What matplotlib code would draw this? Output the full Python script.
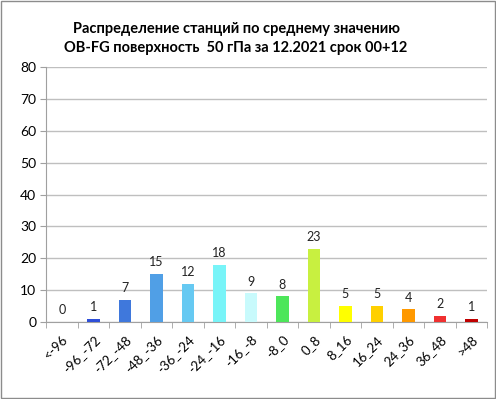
import matplotlib
matplotlib.use("Agg")
import matplotlib.pyplot as plt
import numpy as np

categories = ["<-96", "-96_-72", "-72_-48", "-48_-36", "-36_-24", "-24_-16", "-16_-8",
              "-8_0", "0_8", "8_16", "16_24", "24_36", "36_48", ">48"]
values = [0, 1, 7, 15, 12, 18, 9, 8, 23, 5, 5, 4, 2, 1]
colors = ["#2E4FD8", "#2E4FD8", "#3F78DC", "#509FE6", "#66C9F2", "#78F4F8", "#C8FAFC",
          "#4DE65A", "#C8F040", "#FFFF00", "#FFD000", "#FF9900", "#F03030", "#C00000"]
yticks = [0, 10, 20, 30, 40, 50, 60, 70, 80]
title = "Распределение станций по среднему значению\nOB-FG поверхность  50 гПа за 12.2021 срок 00+12"

plt.rcParams['font.family'] = ['Lato', 'DejaVu Sans']

fig = plt.figure(figsize=(4.96, 3.99), dpi=100)
ax = fig.add_axes([0.093, 0.193, 0.889, 0.639])

x = np.arange(len(categories))
ax.bar(x, values, width=0.4, color=colors, zorder=3)
for xi, v in zip(x, values):
    ax.text(xi, v + 1.8, str(v), ha='center', va='bottom', fontsize=9, color='#222222')

ax.set_xlim(-0.5, len(categories) - 0.5)
ax.set_ylim(0, 80)
ax.set_yticks(yticks)
ax.set_yticklabels([str(t) for t in yticks], fontsize=10)
ax.yaxis.grid(True, color='#BFBFBF', linewidth=1, zorder=0)
ax.set_axisbelow(True)

ax.set_xticks(x)
ax.set_xticklabels(categories, rotation=45, ha='right', rotation_mode='anchor', fontsize=9.5)
ax.tick_params(axis='x', length=0, pad=8)
ax.set_xticks(np.arange(-0.5, len(categories)), minor=True)
ax.tick_params(axis='x', which='minor', length=4, color='#A0A0A0')
ax.tick_params(axis='y', length=4, color='#A0A0A0', pad=3)

for s in ['top', 'right']:
    ax.spines[s].set_visible(False)
for s in ['left', 'bottom']:
    ax.spines[s].set_color('#A0A0A0')

fig.text(0.476, 0.903, title, ha='center', va='center', fontsize=10.5, fontweight='bold',
         linespacing=1.45)

fig.patches.append(plt.Rectangle((0.002, 0.002), 0.995, 0.995, transform=fig.transFigure,
                                 fill=False, edgecolor='#8C8C8C', linewidth=1))

fig.savefig("out.png", dpi=100)
